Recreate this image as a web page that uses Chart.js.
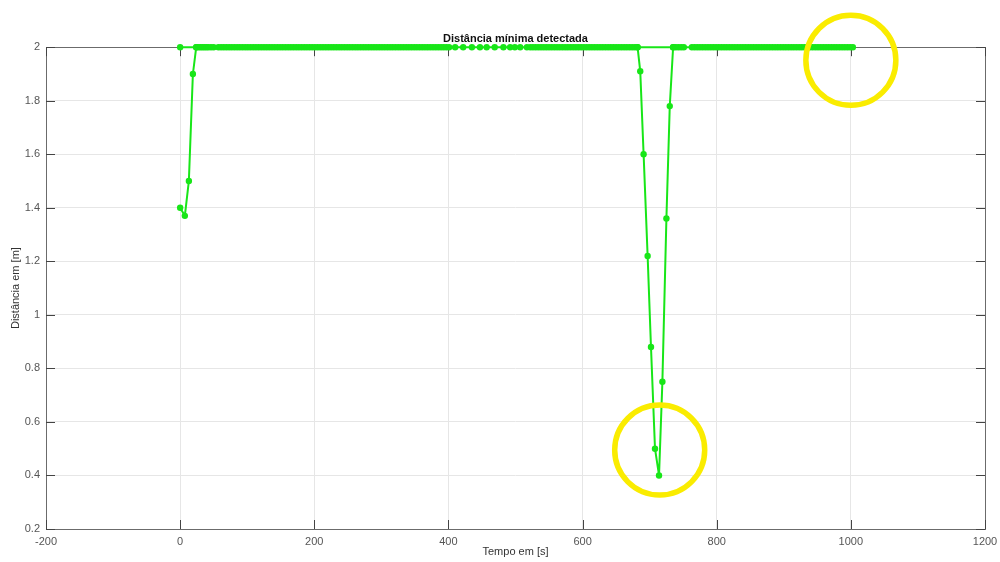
<!DOCTYPE html>
<html lang="pt">
<head>
    <meta charset="UTF-8">
    <title>Distância mínima detectada</title>
    <script src="https://cdn.jsdelivr.net/npm/chart.js"></script>
    <style>
        body {
            margin: 0;
            background-color: #ffffff;
        }
        .chart-container {
            width: 1000px;
            height: 562px;
            position: relative;
        }
    </style>
</head>
<body>
    <div class="chart-container">
        <canvas id="distChart"></canvas>
    </div>

    <script>
        // sensor saturates at 2 m: every sample below is a reading of 2 m
        const saturation = 2;
        const saturatedTimes = [
            0,
            24, 27, 30, 33, 36, 39, 42, 46, 50,
            57, 61, 65, 69, 73, 77, 81, 85, 89, 93, 97, 101, 105, 109, 113, 117, 121, 125, 129, 133,
            137, 141, 145, 149, 153, 157, 161, 165, 169, 173, 177, 181, 185, 189, 193, 197, 201, 205,
            209, 213, 217, 221, 225, 229, 233, 237, 241, 245, 249, 253, 257, 261, 265, 269, 273, 277,
            281, 285, 289, 293, 297, 301, 305, 309, 313, 317, 321, 325, 329, 333, 337, 341, 345, 349,
            353, 357, 361, 365, 369, 373, 377, 381, 385, 389, 393, 397, 401,
            410, 422, 435, 447, 457, 469, 482, 492, 499, 507, 517,
            522, 526, 530, 534, 538, 542, 546, 550, 554, 558, 562, 566, 570, 574, 578, 582, 586, 590,
            594, 598, 602, 606, 610, 614, 618, 622, 626, 630, 634, 638, 642, 646, 650, 654, 658, 662,
            666, 670, 674, 678, 682,
            735, 739, 743, 747, 751,
            763, 767, 771, 775, 779, 783, 787, 791, 795, 799, 803, 807, 811, 815, 819, 823, 827, 831,
            835, 839, 843, 847, 851, 855, 859, 863, 867, 871, 875, 879, 883, 887, 891, 895, 899, 903,
            907, 911, 915, 919, 923, 927, 931, 935, 939, 943, 947, 951, 955, 959, 963, 967, 971, 975,
            979, 983, 987, 991, 995, 999, 1003
        ];

        // start-up readings
        const startTimes = [0, 7, 13, 19, 24];
        const startValues = [1.40, 1.37, 1.50, 1.90, 2.00];

        // obstacle passing by
        const dipTimes = [682, 686, 691, 697, 702, 708, 714, 719, 725, 730, 735];
        const dipValues = [2.00, 1.91, 1.60, 1.22, 0.88, 0.50, 0.40, 0.75, 1.36, 1.78, 2.00];

        const xTicks = [-200, 0, 200, 400, 600, 800, 1000, 1200];
        const yTicks = [0.2, 0.4, 0.6, 0.8, 1, 1.2, 1.4, 1.6, 1.8, 2];

        // highlighted spots [tempo, distância]
        const highlights = [[715, 0.495], [1000, 1.951]];

        const green = 'rgb(24, 230, 24)';
        const fontFamily = '"Liberation Sans", Arial, Helvetica, sans-serif';

        function toPoints(xs, ys) {
            return xs.map((x, i) => ({ x: x, y: ys[i] }));
        }

        function lineSet(data) {
            return {
                data: data,
                showLine: true,
                clip: false,
                borderColor: green,
                backgroundColor: green,
                borderWidth: 2,
                pointRadius: 3.2,
                pointBorderWidth: 0,
                pointBackgroundColor: green
            };
        }

        // box around the plot with inward tick marks on all four sides
        const axesBox = {
            id: 'axesBox',
            beforeDatasetsDraw(chart) {
                const { ctx, chartArea: a, scales } = chart;
                const tl = 9;
                ctx.save();
                ctx.strokeStyle = '#6b6b6b';
                ctx.lineWidth = 1;
                ctx.strokeRect(Math.round(a.left) + 0.5, Math.round(a.top) + 0.5,
                    Math.round(a.right - a.left), Math.round(a.bottom - a.top));
                ctx.strokeStyle = '#444';
                ctx.beginPath();
                xTicks.forEach(v => {
                    const px = Math.round(scales.x.getPixelForValue(v)) + 0.5;
                    ctx.moveTo(px, a.bottom); ctx.lineTo(px, a.bottom - tl);
                    ctx.moveTo(px, a.top); ctx.lineTo(px, a.top + tl);
                });
                yTicks.forEach(v => {
                    const py = Math.round(scales.y.getPixelForValue(v)) + 0.5;
                    ctx.moveTo(a.left, py); ctx.lineTo(a.left + tl, py);
                    ctx.moveTo(a.right, py); ctx.lineTo(a.right - tl, py);
                });
                ctx.stroke();
                ctx.restore();
            }
        };

        const circles = {
            id: 'circles',
            afterDatasetsDraw(chart) {
                const { ctx, scales } = chart;
                ctx.save();
                ctx.strokeStyle = 'rgb(250, 236, 0)';
                ctx.lineWidth = 5.5;
                highlights.forEach(([t, d]) => {
                    ctx.beginPath();
                    ctx.arc(scales.x.getPixelForValue(t), scales.y.getPixelForValue(d), 45, 0, Math.PI * 2);
                    ctx.stroke();
                });
                ctx.restore();
            }
        };

        const ctx = document.getElementById('distChart').getContext('2d');
        new Chart(ctx, {
            type: 'scatter',
            data: {
                datasets: [
                    lineSet(saturatedTimes.map(t => ({ x: t, y: saturation }))),
                    lineSet(toPoints(startTimes, startValues)),
                    lineSet(toPoints(dipTimes, dipValues))
                ]
            },
            options: {
                responsive: true,
                maintainAspectRatio: false,
                animation: false,
                layout: {
                    padding: { left: 0, right: 15, top: 0, bottom: 0 }
                },
                plugins: {
                    legend: { display: false },
                    tooltip: { enabled: false },
                    title: {
                        display: true,
                        fullSize: false,
                        text: 'Distância mínima detectada',
                        color: '#111',
                        font: { family: fontFamily, size: 11, weight: 'bold' },
                        padding: { top: 32, bottom: 2 }
                    }
                },
                scales: {
                    x: {
                        type: 'linear',
                        min: -200,
                        max: 1200,
                        afterFit: s => { s.height = 33; s.paddingLeft = 0; s.paddingRight = 0; },
                        afterBuildTicks: s => { s.ticks = xTicks.map(v => ({ value: v })); },
                        grid: { color: '#e6e6e6', drawTicks: false },
                        border: { display: false },
                        ticks: {
                            color: '#555',
                            padding: 6,
                            maxRotation: 0,
                            font: { family: fontFamily, size: 11 },
                            callback: v => String(v)
                        },
                        title: {
                            display: true,
                            text: 'Tempo em [s]',
                            color: '#333',
                            font: { family: fontFamily, size: 11 },
                            padding: { top: 0, bottom: 3 }
                        }
                    },
                    y: {
                        type: 'linear',
                        min: 0.2,
                        max: 2,
                        afterFit: s => { s.width = 46; s.paddingTop = 0; s.paddingBottom = 0; },
                        afterBuildTicks: s => { s.ticks = yTicks.map(v => ({ value: v })); },
                        grid: { color: '#e6e6e6', drawTicks: false },
                        border: { display: false },
                        ticks: {
                            color: '#555',
                            padding: 6,
                            font: { family: fontFamily, size: 11 },
                            callback: v => String(v)
                        },
                        title: {
                            display: true,
                            text: 'Distância em [m]',
                            color: '#333',
                            font: { family: fontFamily, size: 11 },
                            padding: { top: 9, bottom: 0 }
                        }
                    }
                }
            },
            plugins: [axesBox, circles]
        });
    </script>
</body>
</html>
